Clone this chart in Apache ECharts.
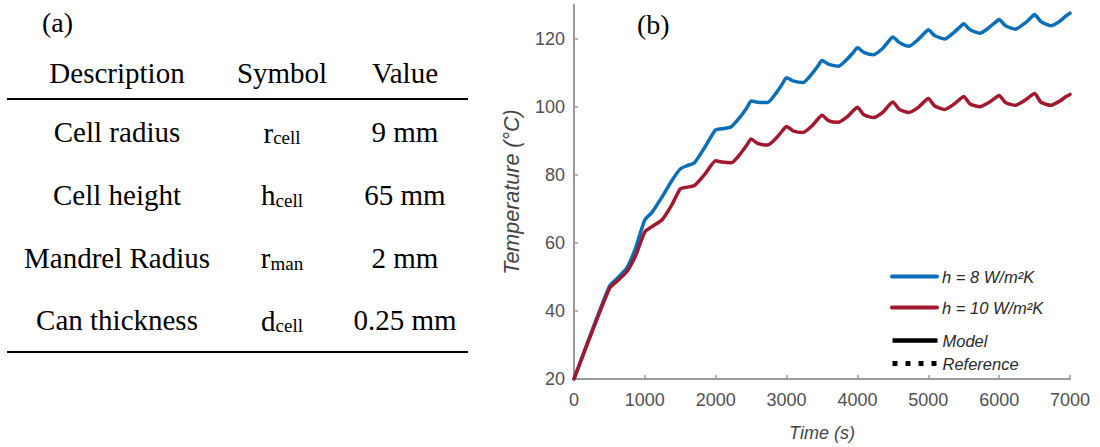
<!DOCTYPE html>
<html>
<head>
<meta charset="utf-8">
<script src="https://cdn.jsdelivr.net/npm/echarts@6/dist/echarts.min.js"></script>
<style>
  html, body { margin: 0; padding: 0; background: #ffffff; }
  #chart { width: 1100px; height: 447px; }
</style>
</head>
<body>
<div id="chart"></div>
<script>
// ---- (a) cell parameter table ----
const tableHeaders = ['Description', 'Symbol', 'Value'];
const paramNames = ['Cell radius', 'Cell height', 'Mandrel Radius', 'Can thickness'];
const paramSymbols = ['r', 'h', 'r', 'd'];
const paramSubscripts = ['cell', 'cell', 'man', 'cell'];
const paramValues = ['9 mm', '65 mm', '2 mm', '0.25 mm'];

// ---- (b) temperature history ----
const timeS = [
  0, 500, 620, 750, 870, 1000, 1100, 1250, 1380, 1500,
  1590, 1700, 1850, 2000, 2090, 2220, 2350, 2440, 2500,
  2590, 2730, 2860, 2940, 3000, 3090, 3230, 3360, 3440, 3500,
  3590, 3730, 3860, 3940, 4000, 4090, 4230, 4360, 4440, 4500,
  4590, 4730, 4860, 4940, 5000, 5090, 5230, 5360, 5440, 5500,
  5590, 5730, 5860, 5940, 6000, 6090, 6230, 6360, 6440, 6500,
  6590, 6730, 6860, 6940, 7000
];
// h = 8 W/m²K
const tempH8 = [
  20, 47.3, 49.8, 52.8, 58.6, 66.8, 69.0, 73.8, 78.3, 81.8,
  82.7, 83.6, 88.3, 93.3, 93.6, 94.2, 97.2, 99.8, 101.8,
  101.4, 101.3, 104.3, 106.8, 108.6, 107.7, 107.2, 109.8, 112.0, 113.7,
  112.6, 112.0, 114.2, 116.0, 117.4, 116.1, 115.4, 117.3, 119.3, 120.6,
  119.0, 117.9, 119.9, 121.6, 122.7, 121.0, 120.0, 121.9, 123.4, 124.5,
  122.7, 121.7, 123.4, 124.8, 125.7, 123.9, 122.9, 124.6, 126.1, 127.2,
  125.1, 123.9, 125.3, 126.7, 127.6
];
// h = 10 W/m²K
const tempH10 = [
  20, 46.6, 49.0, 51.7, 56.3, 63.3, 64.8, 67.0, 71.2, 75.9,
  76.4, 76.9, 80.3, 84.2, 83.8, 83.6, 86.3, 88.8, 90.6,
  89.3, 88.8, 91.0, 93.0, 94.3, 93.0, 92.5, 94.5, 96.4, 97.6,
  96.0, 95.5, 97.2, 98.9, 99.9, 97.7, 96.9, 98.5, 100.4, 101.5,
  99.3, 98.4, 99.9, 101.5, 102.5, 100.3, 99.3, 100.8, 102.2, 103.1,
  100.9, 100.1, 101.4, 102.6, 103.4, 101.3, 100.5, 101.9, 103.2, 104.0,
  101.4, 100.5, 101.8, 103.0, 103.7
];

const seriesNames = ['h = 8 W/m\u00B2K', 'h = 10 W/m\u00B2K', 'Model', 'Reference'];

const SERIF = "'Liberation Serif', 'Times New Roman', serif";
const SANS = "'Liberation Sans', Arial, Helvetica, sans-serif";

function pairs(xs, ys) {
  return xs.map((x, i) => [x, ys[i]]);
}

// table layout
const colX = [117, 282, 405];
const headerY = 73;
const rowY = [132, 194.5, 257.5, 320];
const tableGraphics = [];

tableGraphics.push({
  type: 'text', left: 42, top: 8,
  style: { text: '(a)', font: '28px ' + SERIF, fill: '#000' }
});
tableHeaders.forEach((h, i) => {
  tableGraphics.push({
    type: 'text', x: colX[i], y: headerY,
    style: { text: h, font: '29px ' + SERIF, fill: '#000', align: 'center', verticalAlign: 'middle' }
  });
});
tableGraphics.push({
  type: 'line', shape: { x1: 7, y1: 99, x2: 468, y2: 99 },
  style: { stroke: '#000', lineWidth: 2 }
});
tableGraphics.push({
  type: 'line', shape: { x1: 7, y1: 352, x2: 468, y2: 352 },
  style: { stroke: '#000', lineWidth: 2 }
});
paramNames.forEach((name, i) => {
  tableGraphics.push({
    type: 'text', x: colX[0], y: rowY[i],
    style: { text: name, font: '29px ' + SERIF, fill: '#000', align: 'center', verticalAlign: 'middle' }
  });
  tableGraphics.push({
    type: 'text', x: colX[1], y: rowY[i] - 2,
    style: {
      text: '{m|' + paramSymbols[i] + '}{s|' + paramSubscripts[i] + '}',
      align: 'center', verticalAlign: 'middle',
      rich: {
        m: { fontSize: 29, fontFamily: SERIF, fill: '#000', lineHeight: 34, verticalAlign: 'bottom' },
        s: { fontSize: 19, fontFamily: SERIF, fill: '#000', lineHeight: 23, verticalAlign: 'bottom' }
      }
    }
  });
  tableGraphics.push({
    type: 'text', x: colX[2], y: rowY[i],
    style: { text: paramValues[i], font: '29px ' + SERIF, fill: '#000', align: 'center', verticalAlign: 'middle' }
  });
});
tableGraphics.push({
  type: 'text', left: 637, top: 10,
  style: { text: '(b)', font: '28px ' + SERIF, fill: '#000' }
});

const axisGray = '#9a9a9a';
const labelGray = '#505050';
const legendText = { fontFamily: SANS, fontStyle: 'italic', fontSize: 16.5, color: '#2a2a2a', lineHeight: 16 };

const chart = echarts.init(document.getElementById('chart'), null, { renderer: 'svg' });
chart.setOption({
  animation: false,
  backgroundColor: '#ffffff',
  grid: { left: 574, right: 30, top: 5, bottom: 65 },
  graphic: tableGraphics,
  legend: [
    {
      data: [seriesNames[0], seriesNames[1]],
      orient: 'vertical', left: 890, top: 268, padding: 0,
      itemWidth: 45, itemHeight: 14, itemGap: 14,
      itemStyle: { opacity: 0 },
      lineStyle: { width: 4 },
      textStyle: legendText
    },
    {
      data: [
        { name: seriesNames[2] },
        { name: seriesNames[3], lineStyle: { width: 5, type: [5, 8] } }
      ],
      orient: 'vertical', left: 890, top: 332, padding: 0,
      itemWidth: 45, itemHeight: 14, itemGap: 6,
      itemStyle: { opacity: 0 },
      lineStyle: { width: 4.5 },
      textStyle: legendText
    }
  ],
  xAxis: {
    type: 'value', min: 0, max: 7000, interval: 1000,
    name: 'Time (s)', nameLocation: 'middle', nameGap: 45,
    nameTextStyle: { fontFamily: SANS, fontStyle: 'italic', fontSize: 18, color: '#444' },
    axisLine: { lineStyle: { color: axisGray, width: 2 } },
    axisTick: { inside: true, length: 4, lineStyle: { color: axisGray, width: 1.5 } },
    axisLabel: {
      fontFamily: SANS, fontSize: 18, color: labelGray, margin: 12,
      formatter: (v) => String(v)
    },
    splitLine: { show: false }
  },
  yAxis: {
    type: 'value', min: 20, max: 130, interval: 20,
    name: 'Temperature (\u00B0C)', nameLocation: 'middle', nameGap: 51,
    nameTextStyle: { fontFamily: SANS, fontStyle: 'italic', fontSize: 21.5, color: '#444' },
    axisLine: { show: true, lineStyle: { color: axisGray, width: 2 } },
    axisTick: { show: true, inside: true, length: 4, lineStyle: { color: axisGray, width: 1.5 } },
    axisLabel: {
      fontFamily: SANS, fontSize: 18, color: labelGray, margin: 9, showMaxLabel: false,
      formatter: (v) => String(v)
    },
    splitLine: { show: false }
  },
  series: [
    {
      name: seriesNames[0], type: 'line', data: pairs(timeS, tempH8),
      symbol: 'none', smooth: 0.2, color: '#0a6fb8',
      lineStyle: { color: '#0a6fb8', width: 3.5, join: 'round', cap: 'round' }
    },
    {
      name: seriesNames[1], type: 'line', data: pairs(timeS, tempH10),
      symbol: 'none', smooth: 0.2, color: '#a2182f',
      lineStyle: { color: '#a2182f', width: 3.5, join: 'round', cap: 'round' }
    },
    {
      name: seriesNames[2], type: 'line', data: [],
      symbol: 'none', color: '#000',
      lineStyle: { color: '#000', width: 4 }
    },
    {
      name: seriesNames[3], type: 'line', data: [],
      symbol: 'none', color: '#000',
      lineStyle: { color: '#000', width: 5, type: [5, 8] }
    }
  ]
});
</script>
</body>
</html>
